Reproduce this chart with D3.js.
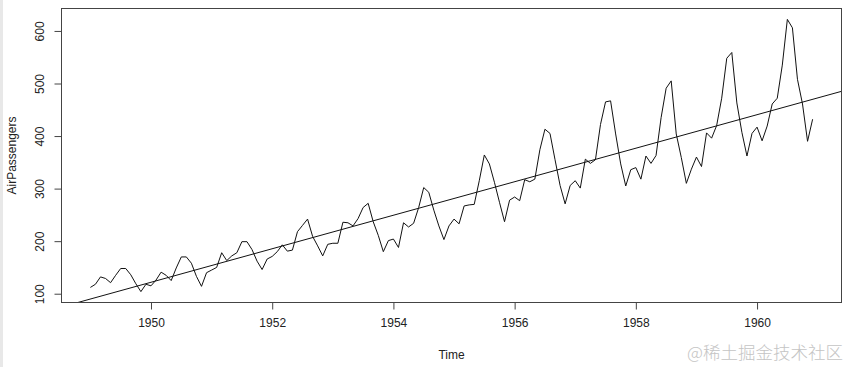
<!DOCTYPE html>
<html><head><meta charset="utf-8">
<script src="https://cdn.jsdelivr.net/npm/d3@7"></script>
<style>
body{margin:0;background:#fff;}
svg{display:block;}
text{font-family:"Liberation Sans",Arial,sans-serif;}
</style></head>
<body>
<svg id="chart" width="850" height="367"></svg>
<script>
// Monthly AirPassengers 1949-1960
const years = [1949,1950,1951,1952,1953,1954,1955,1956,1957,1958,1959,1960];
const passengers = [
 112,118,132,129,121,135,148,148,136,119,104,118,
 115,126,141,135,125,149,170,170,158,133,114,140,
 145,150,178,163,172,178,199,199,184,162,146,166,
 171,180,193,181,183,218,230,242,209,191,172,194,
 196,196,236,235,229,243,264,272,237,211,180,201,
 204,188,235,227,234,264,302,293,259,229,203,229,
 242,233,267,269,270,315,364,347,312,274,237,278,
 284,277,317,313,318,374,413,405,355,306,271,306,
 315,301,356,348,355,422,465,467,404,347,305,336,
 340,318,362,348,363,435,491,505,404,359,310,337,
 360,342,406,396,420,472,548,559,463,407,362,405,
 417,391,419,461,472,535,622,606,508,461,390,432
];
const xTicks = [1950,1952,1954,1956,1958,1960];
const yTicks = [100,200,300,400,500,600];
// lm(AirPassengers ~ time(AirPassengers))
const trendIntercept = -62055.907;
const trendSlope = 31.886;

const svg = d3.select("#chart");
const mLeft = 61.5, mRight = 841.5, mTop = 8.5, mBottom = 302.5;

const data = passengers.map((v,i)=>({t: years[0] + i/12, v}));
const tMin = data[0].t, tMax = data[data.length-1].t;
const tPad = (tMax - tMin)*0.04;
const vMin = d3.min(passengers), vMax = d3.max(passengers);
const vPad = (vMax - vMin)*0.04;

const x = d3.scaleLinear().domain([tMin - tPad, tMax + tPad]).range([mLeft, mRight]);
const y = d3.scaleLinear().domain([vMin - vPad, vMax + vPad]).range([mBottom, mTop]);

// left gray strip
svg.append("rect").attr("x",0).attr("y",0).attr("width",3).attr("height",367).attr("fill","#e8e8e8");

svg.append("defs").append("clipPath").attr("id","clip")
  .append("rect").attr("x",mLeft).attr("y",mTop).attr("width",mRight-mLeft).attr("height",mBottom-mTop);

const plot = svg.append("g").attr("clip-path","url(#clip)");

plot.append("path").datum(data)
  .attr("fill","none").attr("stroke","#111").attr("stroke-width",1)
  .attr("d", d3.line().x(d=>x(d.t)).y(d=>y(d.v)));

const [xa, xb] = x.domain();
plot.append("line")
  .attr("x1", x(xa)).attr("y1", y(trendIntercept + trendSlope*xa))
  .attr("x2", x(xb)).attr("y2", y(trendIntercept + trendSlope*xb))
  .attr("stroke","#111").attr("stroke-width",1);

// box
svg.append("rect").attr("x",mLeft).attr("y",mTop).attr("width",mRight-mLeft).attr("height",mBottom-mTop)
  .attr("fill","none").attr("stroke","#444").attr("stroke-width",1);

// x axis
const xAxis = svg.append("g").attr("transform",`translate(0,${mBottom})`)
  .call(d3.axisBottom(x).tickValues(xTicks).tickFormat(d3.format("d")).tickSize(7).tickPadding(9));
xAxis.select(".domain").remove();
xAxis.selectAll("line").attr("stroke","#444");
xAxis.selectAll("text").attr("font-size",12).attr("fill","#222")
  .style("font-family","'Liberation Sans',Arial,sans-serif");

// y axis
const yAxis = svg.append("g").attr("transform",`translate(${mLeft},0)`)
  .call(d3.axisLeft(y).tickValues(yTicks).tickSize(7).tickFormat(d3.format("d")));
yAxis.select(".domain").remove();
yAxis.selectAll("line").attr("stroke","#444");
yAxis.selectAll("text").attr("font-size",12).attr("fill","#222")
  .style("font-family","'Liberation Sans',Arial,sans-serif")
  .attr("x",null).attr("dy",null)
  .attr("text-anchor","middle")
  .attr("transform",`translate(${40-mLeft+4},0) rotate(-90)`);

// axis titles
svg.append("text").attr("x",(mLeft+mRight)/2).attr("y",359).attr("text-anchor","middle")
  .attr("font-size",12).attr("fill","#222").text("Time");
svg.append("text").attr("transform",`translate(16,${(mTop+mBottom)/2}) rotate(-90)`)
  .attr("text-anchor","middle").attr("font-size",12).attr("fill","#222").text("AirPassengers");

// watermark
svg.append("text").attr("x",843).attr("y",359).attr("text-anchor","end")
  .attr("font-size",17.5).attr("fill","#c4c4c4").attr("font-weight",300)
  .style("font-family","'Noto Sans CJK SC',sans-serif").text("@稀土掘金技术社区");
</script>
</body></html>
